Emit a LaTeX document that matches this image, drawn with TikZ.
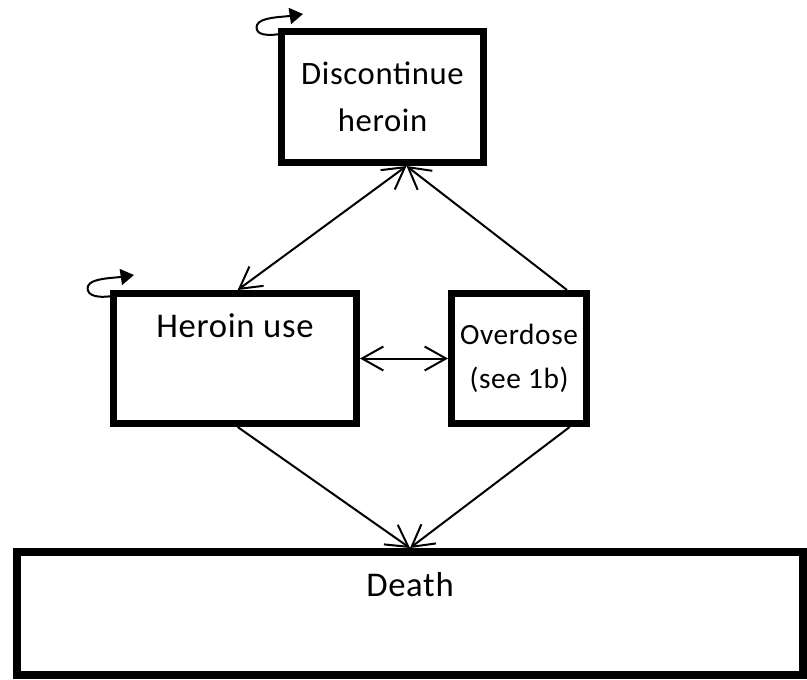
\documentclass[tikz,border=0pt]{standalone}
\usepackage{fontspec}
\setmainfont[LetterSpace=2]{Carlito}
\usetikzlibrary{positioning,arrows.meta}
\tikzset{main node/.style={rectangle,draw,line width=5.25pt,align=center,
inner sep=0pt,font=\fontsize{25}{36}\selectfont},
link/.style={line width=1.5pt,-{Straight Barb[length=16pt,width=18pt]}},
two way/.style={line width=1.5pt,
{Straight Barb[length=16pt,width=18pt]}-{Straight Barb[length=16pt,width=18pt]}},
self loop/.style={line width=1.5pt,-{Triangle[length=10pt,width=12pt]}}}

\begin{document}
\begin{tikzpicture}[x=0.75pt,y=-0.75pt]
\useasboundingbox (0,0) rectangle (807,679);
\node[main node,minimum width=151.5pt,minimum height=98.25pt,
  font=\fontsize{24.5}{35}\selectfont] (0) at (382.5,97) {Discontinue\\heroin};
\node[main node,minimum width=182.25pt,minimum height=97.5pt,
  font=\fontsize{26}{38}\selectfont] (1) at (235,358.5) {Heroin use\\\strut};
\node[main node,minimum width=101.25pt,minimum height=97.5pt,
  font=\fontsize{22}{33}\selectfont] (2) [right=66pt of 1] {Overdose\\(see 1b)};
\node[main node,line width=6pt,minimum width=589.5pt,minimum height=92.25pt,
  font=\fontsize{26}{34}\selectfont] (3) at (410,613.5) {Death\\\strut};

\path[draw]
([xshift=18pt]0.south) edge[two way] ([xshift=2pt]1.north)
([xshift=36pt]2.north) edge[link] ([xshift=18pt]0.south)
(1) edge[two way] (2)
([xshift=2pt]1.south) edge[link] (3.north)
([xshift=38pt]2.south) edge[link] (3.north);

\draw[self loop] ([shift={(2,6)}]0.north west) .. controls +(-20,3) and +(-2,7) .. ([shift={(-21,-3)}]0.north west)
  .. controls +(3,-8) and +(-20,3) .. ([shift={(25,-14)}]0.north west);
\draw[self loop] ([shift={(2,6)}]1.north west) .. controls +(-20,3) and +(-2,7) .. ([shift={(-22,-4)}]1.north west)
  .. controls +(3,-8) and +(-20,3) .. ([shift={(24,-15)}]1.north west);
\end{tikzpicture}
\end{document}
